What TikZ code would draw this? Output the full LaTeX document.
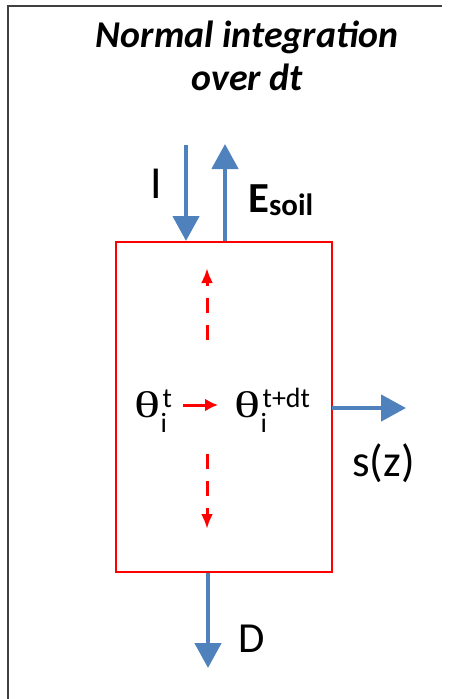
\documentclass[tikz,border=0pt]{standalone}
\usepackage{fontspec}
\setmainfont{Carlito}
\newfontfamily\thetafont{Liberation Serif}
\usetikzlibrary{arrows.meta}
\definecolor{flowblue}{HTML}{4F81BD}
\definecolor{framegray}{HTML}{404040}
\newcommand{\thetaglyph}{\resizebox{26bp}{26bp}{\thetafont θ}}
\newcommand{\smallfs}{\fontsize{28}{28}\selectfont}
\tikzset{
  flow/.style={draw=flowblue, line width=4.5bp, -{Triangle[width=26bp,length=25bp]}},
  dashflow/.style={draw=red, line width=3bp, dash pattern=on 15bp off 12bp, -{Latex[width=12bp,length=15bp]}},
  lbl/.style={inner sep=0pt, anchor=base west},
  titlefont/.style={inner sep=0pt, anchor=base, font=\fontsize{38}{43}\selectfont\bfseries\itshape},
}
\begin{document}
\begin{tikzpicture}[x=1bp, y=-1bp]
\useasboundingbox (0,0) rectangle (451,699);
% outer frame (left and top only)
\draw[framegray, line width=2bp] (8,699) -- (8,6) -- (442,6);
% title
\node[titlefont] (title1) at (247,48) {Normal integration};
\node[titlefont] (title2) at (247,91) {over dt};
% box
\node[draw=red, line width=2.6bp, minimum width=216bp, minimum height=330bp, inner sep=0pt] (box) at (224,407) {};
% coordinates
\coordinate (Itop) at (186,145);
\coordinate (Itip) at (186,241);
\coordinate (Ebase) at (225,241);
\coordinate (Etip) at (225,144);
\coordinate (Sbase) at (332,408);
\coordinate (Stip) at (406,408);
\coordinate (Dbase) at (208,573);
\coordinate (Dtip) at (208,668);
\draw[flow] (Itop) -- (Itip);
\draw[flow] (Ebase) -- (Etip);
\draw[flow] (Sbase) -- (Stip);
\draw[flow] (Dbase) -- (Dtip);
% labels
\node[lbl, font=\fontsize{46}{46}\selectfont] (I) at (150,198) {I};
\node[lbl, font=\fontsize{43}{43}\selectfont\bfseries] (E) at (248,212) {E\raisebox{-3bp}{\fontsize{31}{31}\selectfont soil}};
\node[lbl, font=\fontsize{45}{45}\selectfont] (s) at (352,476) {s(z)};
\node[lbl, font=\fontsize{43}{43}\selectfont] (D) at (238,652) {D};
% thetas
\node[lbl] (th1) at (134,417) {\thetaglyph\kern0.5bp\rlap{\raisebox{-15bp}{\smallfs i}}\kern2bp\raisebox{10bp}{\smallfs t}};
\node[lbl] (th2) at (234,417) {\thetaglyph\kern0.5bp\rlap{\raisebox{-15bp}{\smallfs i}}\kern2bp\raisebox{10bp}{\smallfs t+dt}};
\coordinate (rA) at (183,405);
\coordinate (rB) at (218,405);
\draw[draw=red, line width=3bp, -{Latex[width=13bp,length=13bp]}] (rA) -- (rB);
% dashed arrows
\coordinate (u1) at (207,340);
\coordinate (u2) at (207,268);
\coordinate (d1) at (207,454);
\coordinate (d2) at (207,529);
\draw[dashflow] (u1) -- (u2);
\draw[dashflow] (d1) -- (d2);
\end{tikzpicture}
\end{document}
